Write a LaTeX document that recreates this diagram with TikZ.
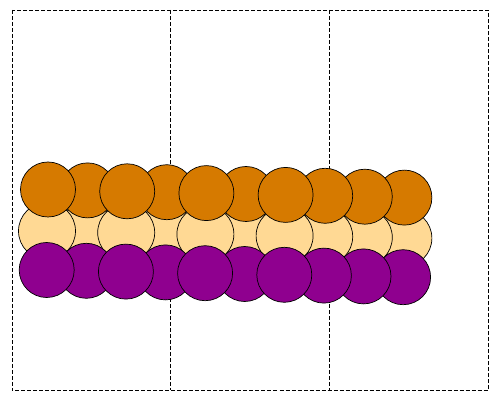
\documentclass[tikz,border=0pt]{standalone}
\usepackage{tikz}
\usetikzlibrary{positioning}

\definecolor{atomorange}{RGB}{214,122,0}
\definecolor{atomyellow}{RGB}{255,217,148}
\definecolor{atompurple}{RGB}{143,0,143}

\tikzset{
  cellline/.style={draw=black, line width=0.6pt, dash pattern=on 4pt off 2pt},
  atom/.style={shape=circle, draw=black, line width=0.7pt, inner sep=0pt, minimum size=55pt},
}

\begin{document}
\begin{tikzpicture}[x=1pt,y=-1pt]
\useasboundingbox (0,0) rectangle (499,401);

% cell frame
\draw[cellline] (12,10) rectangle (488,390.5);
\draw[cellline] (170.7,10) -- (170.7,390.5);
\draw[cellline] (329.3,10) -- (329.3,390.5);

% middle row (behind)
\foreach \i in {9,8,7,5,3,1,6,4,2,0}
  \node[atom, fill=atomyellow, minimum size=57pt] (y\i) at ({47+39.6*\i},{231+0.8*\i}) {};

% top row
\foreach \i in {9,8,7,5,3,1,6,4,2,0}
  \node[atom, fill=atomorange] (o\i) at ({48+39.6*\i},{189.5+0.9*\i}) {};

% bottom row
\foreach \i in {9,8,7,5,3,1,6,4,2,0}
  \node[atom, fill=atompurple] (p\i) at ({46.7+39.6*\i},{270+0.8*\i}) {};
\end{tikzpicture}
\end{document}
